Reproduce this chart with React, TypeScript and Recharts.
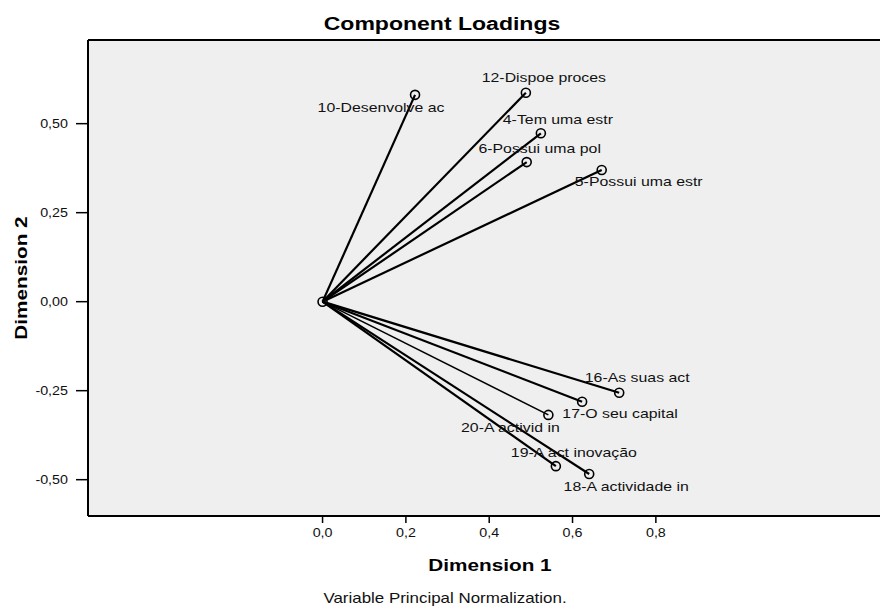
import { ScatterChart, Scatter, XAxis, YAxis, ReferenceArea, ReferenceLine } from 'recharts'

// component loadings
const variables = [
  '10-Desenvolve ac',
  '12-Dispoe proces',
  '4-Tem uma estr',
  '6-Possui uma pol',
  '5-Possui uma estr',
  '16-As suas act',
  '17-O seu capital',
  '20-A activid in',
  '19-A act inovação',
  '18-A actividade in',
]
const dim1 = [0.222, 0.488, 0.524, 0.49, 0.67, 0.712, 0.623, 0.542, 0.56, 0.64]
const dim2 = [0.581, 0.587, 0.473, 0.392, 0.37, -0.256, -0.281, -0.318, -0.462, -0.484]

const xTicks = [0, 0.2, 0.4, 0.6, 0.8]
const yTicks = [-0.5, -0.25, 0, 0.25, 0.5]
const xDomain = [-0.563, 1.338]
const yDomain = [-0.602, 0.735]
const origin = { x: 0, y: 0 }

// where each label sits relative to its point (dx, dy to text centre)
const labelOffset: Record<string, [number, number]> = {
  '10-Desenvolve ac': [-34, 13],
  '12-Dispoe proces': [18, -15],
  '4-Tem uma estr': [17, -14],
  '6-Possui uma pol': [13, -14],
  '5-Possui uma estr': [37, 12],
  '16-As suas act': [18, -15],
  '17-O seu capital': [38, 12],
  '20-A activid in': [-38, 13],
  '19-A act inovação': [18, -14],
  '18-A actividade in': [37, 13],
}

const points = variables.map((name, i) => ({ name, x: dim1[i], y: dim2[i] }))

const FONT = 'Liberation Sans, Arial, sans-serif'
const comma = (d: number, n: number) => d.toFixed(n).replace('.', ',')

function PointShape(props: any) {
  const { cx, cy, payload } = props
  const off = labelOffset[payload.name] || [0, 0]
  return (
    <g>
      <circle cx={cx} cy={cy} r={4.5} fill="none" stroke="#000" strokeWidth={1.6} />
      <text
        transform={`translate(${cx + off[0]},${cy + off[1]}) scale(1.22,1)`}
        textAnchor="middle"
        dominantBaseline="central"
        fontSize={13}
        fontFamily={FONT}
        fill="#111"
      >
        {payload.name}
      </text>
    </g>
  )
}

function OriginShape(props: any) {
  return <circle cx={props.cx} cy={props.cy} r={4.5} fill="none" stroke="#000" strokeWidth={1.6} />
}

function XTick(props: any) {
  const { x, y, payload } = props
  return (
    <text transform={`translate(${x},${y + 10}) scale(1.1,1)`} textAnchor="middle" fontSize={13} fontFamily={FONT} fill="#111">
      {comma(payload.value, 1)}
    </text>
  )
}

function YTick(props: any) {
  const { x, y, payload } = props
  return (
    <text
      transform={`translate(${x},${y}) scale(1.1,1)`}
      textAnchor="end"
      dominantBaseline="central"
      fontSize={13}
      fontFamily={FONT}
      fill="#111"
    >
      {comma(payload.value, 2)}
    </text>
  )
}

export default function App() {
  return (
    <div style={{ position: 'absolute', left: 0, top: 0, width: 880, height: 610, background: '#fff' }}>
      <ScatterChart width={880} height={610} margin={{ top: 40, right: 0, bottom: 0, left: 0 }}>
        <ReferenceArea
          x1={xDomain[0]}
          x2={xDomain[1]}
          y1={yDomain[0]}
          y2={yDomain[1]}
          fill="#efefef"
          fillOpacity={1}
          stroke="none"
        />
        <XAxis
          type="number"
          dataKey="x"
          domain={xDomain}
          ticks={xTicks}
          allowDataOverflow
          height={94}
          axisLine={{ stroke: '#000', strokeWidth: 2 }}
          tickLine={{ stroke: '#000', strokeWidth: 1.5 }}
          tickSize={7}
          tickMargin={4}
          tick={<XTick />}
        />
        <YAxis
          type="number"
          dataKey="y"
          domain={yDomain}
          ticks={yTicks}
          allowDataOverflow
          width={88}
          axisLine={{ stroke: '#000', strokeWidth: 2 }}
          tickLine={{ stroke: '#000', strokeWidth: 1.5 }}
          tickSize={12}
          tickMargin={8}
          tick={<YTick />}
        />
        <ReferenceLine y={yDomain[1]} stroke="#000" strokeWidth={2} />
        <ReferenceLine y={yDomain[0]} stroke="#000" strokeWidth={2} />
        <ReferenceLine x={xDomain[0]} stroke="#000" strokeWidth={2} />
        {points.map((p) => (
          <ReferenceLine
            key={p.name}
            segment={[origin, { x: p.x, y: p.y }]}
            stroke="#000"
            strokeWidth={p.name.startsWith('20') ? 1.5 : 2.2}
          />
        ))}
        <Scatter data={[origin]} shape={<OriginShape />} isAnimationActive={false} />
        <Scatter data={points} shape={<PointShape />} isAnimationActive={false} />
      </ScatterChart>
      <svg
        width={880}
        height={610}
        style={{ position: 'absolute', left: 0, top: 0, pointerEvents: 'none' }}
        fontFamily={FONT}
      >
        <text transform="translate(442,30) scale(1.28,1)" textAnchor="middle" fontSize={18} fontWeight="bold" fill="#000">
          Component Loadings
        </text>
        <text transform="translate(490,571) scale(1.22,1)" textAnchor="middle" fontSize={17} fontWeight="bold" fill="#000">
          Dimension 1
        </text>
        <text transform="translate(27,278) rotate(-90) scale(1.22,1)" textAnchor="middle" fontSize={17} fontWeight="bold" fill="#000">
          Dimension 2
        </text>
        <text transform="translate(445,603) scale(1.21,1)" textAnchor="middle" fontSize={14} fill="#111">
          Variable Principal Normalization.
        </text>
      </svg>
    </div>
  )
}
